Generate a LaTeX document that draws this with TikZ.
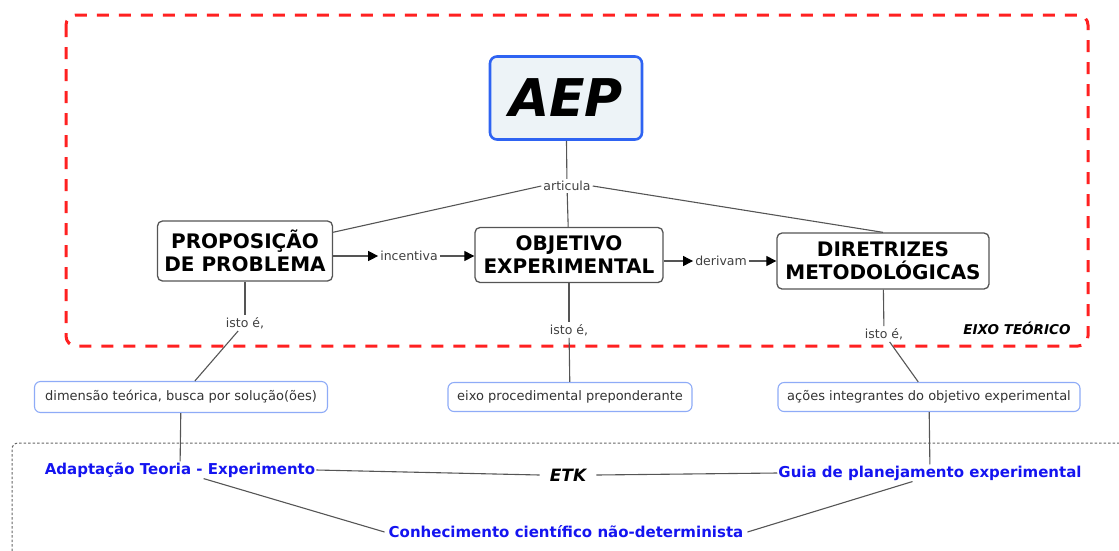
\documentclass[tikz,border=0pt]{standalone}
\usepackage{fontspec}
\setmainfont{DejaVu Sans}
\usepackage{xcolor}
\usepackage{tikz}
\usetikzlibrary{arrows.meta}

\definecolor{frameRed}{HTML}{FF2121}
\definecolor{edgeGray}{HTML}{555555}
\definecolor{aepBlue}{HTML}{2E63F2}
\definecolor{aepFill}{HTML}{EDF3F7}
\definecolor{leafBlue}{HTML}{8EABF7}
\definecolor{textBlue}{HTML}{1414F0}

\begin{document}
\begin{tikzpicture}[x=1pt, y=-1pt,
  concept/.style={draw=edgeGray, line width=1.3pt, rounded corners=5pt, fill=white,
    align=center, inner sep=2pt, font=\bfseries\fontsize{20}{23}\selectfont},
  leaf/.style={draw=leafBlue, line width=1.1pt, rounded corners=6pt, fill=white,
    inner sep=2pt, text=black!80, font=\fontsize{13}{15}\selectfont},
  linkword/.style={inner sep=2pt, text=black!75, font=\fontsize{12.5}{14}\selectfont},
  bluetext/.style={inner sep=1pt, text=textBlue, font=\bfseries\fontsize{15}{17}\selectfont},
  edge/.style={draw=edgeGray, line width=1.1pt},
  arrowedge/.style={edge, -{Triangle[length=10pt,width=10pt,color=black]}}]

\useasboundingbox (0,0) rectangle (1119,550);

% Frames
\draw[frameRed, line width=3pt, dash pattern=on 12pt off 10pt, rounded corners=10pt]
  (66,15) rectangle (1088,346);
\begin{scope}
  \clip (0,0) rectangle (1119,550);
  \draw[black!60, line width=1pt, dash pattern=on 2.5pt off 2pt, rounded corners=6pt]
    (12,560) -- (12,443) -- (1130,443);
\end{scope}
\node[inner sep=0pt, font=\bfseries\itshape\fontsize{13.5}{15}\selectfont] (eixoteo) at (1017,328) {EIXO TEÓRICO};

% Main concept
\node[draw=aepBlue, line width=2.6pt, rounded corners=7pt, fill=aepFill,
  minimum width=152pt, minimum height=83pt, font=\bfseries\itshape\fontsize{52}{56}\selectfont]
  (aep) at (566,98) {AEP};

% Concepts
\node[concept, minimum width=175pt, minimum height=60pt] (prop) at (245,251) {PROPOSIÇÃO\\DE PROBLEMA};
\node[concept, minimum width=188pt, minimum height=55pt] (obj) at (569,255) {OBJETIVO\\EXPERIMENTAL};
\node[concept, minimum width=212pt, minimum height=56pt] (dir) at (883,261) {DIRETRIZES\\METODOLÓGICAS};

% Linking words
\node[linkword] (art) at (567,186) {articula};
\node[linkword] (inc) at (409,256) {incentiva};
\node[linkword] (der) at (721,261) {derivam};
\node[linkword] (isto1) at (245,323) {isto é,};
\node[linkword] (isto2) at (569,330) {isto é,};
\node[linkword] (isto3) at (884,334) {isto é,};

% Leaves
\node[leaf, minimum width=293pt, minimum height=31pt] (dim) at (181,397) {dimensão teórica, busca por solução(ões)};
\node[leaf, minimum width=244pt, minimum height=29pt] (proc) at (570,397) {eixo procedimental preponderante};
\node[leaf, minimum width=302pt, minimum height=29pt] (acoes) at (929,397) {ações integrantes do objetivo experimental};

% Bottom concepts
\node[bluetext] (adapt) at (180,470) {Adaptação Teoria - Experimento};
\node[inner ysep=2pt, inner xsep=10pt, font=\bfseries\itshape\fontsize{17}{19}\selectfont] (etk) at (568,475) {ETK};
\node[bluetext] (guia) at (930,473) {Guia de planejamento experimental};
\node[bluetext, inner xsep=4pt] (conh) at (566,532) {Conhecimento científico não-determinista};

% Connections
\draw[edge] (aep) -- (art);
\draw[edge] (art.west) -- (prop.12);
\draw[edge] (art) -- (obj);
\draw[edge] (art.east) -- (dir.north);
\draw[arrowedge] (prop.east |- inc) -- (inc);
\draw[arrowedge] (inc) -- (obj.west |- inc);
\draw[arrowedge] (obj.east |- der) -- (der);
\draw[arrowedge] (der) -- (dir.west |- der);
\draw[edge] (prop) -- (isto1);
\draw[edge] (isto1) -- (dim);
\draw[edge] (obj) -- (isto2);
\draw[edge] (isto2) -- (proc);
\draw[edge] (dir) -- (isto3);
\draw[edge] (isto3) -- (acoes);
\draw[edge] (dim) -- (adapt);
\draw[edge] (acoes) -- (guia);
\draw[edge] (adapt.east) -- (etk.west);
\draw[edge] (etk.east) -- (guia.west);
\draw[edge] (adapt.-20) -- (conh.west);
\draw[edge] (guia.-154) -- (conh.east);

\end{tikzpicture}
\end{document}
